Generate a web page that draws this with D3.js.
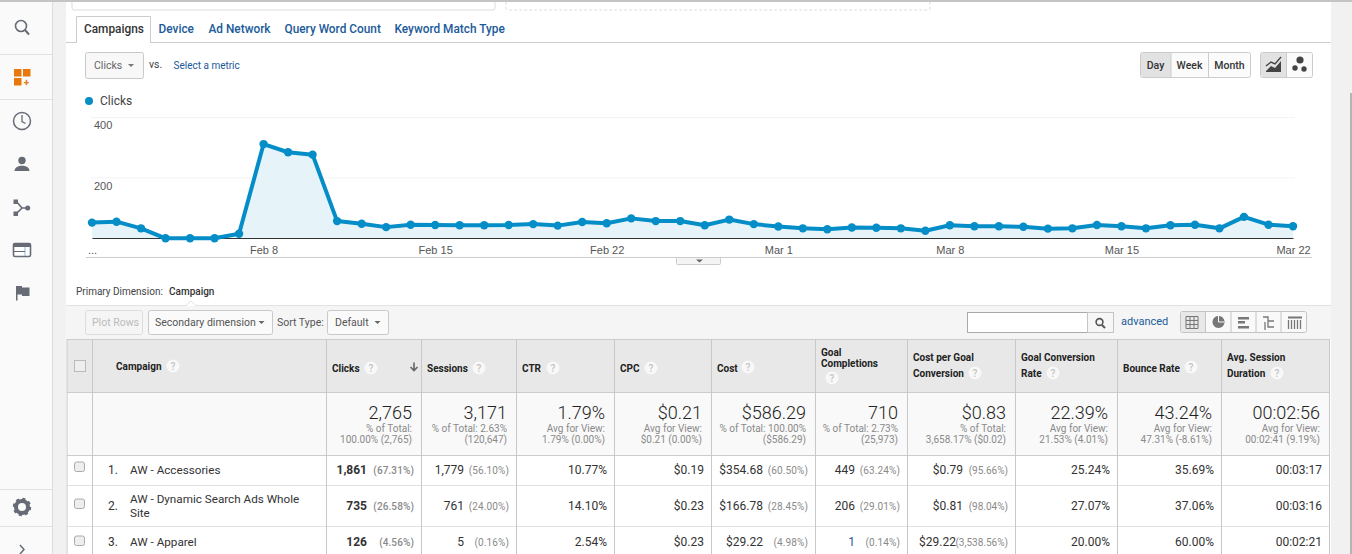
<!DOCTYPE html>
<html><head><meta charset="utf-8">
<script src="https://d3js.org/d3.v7.min.js"></script>
<style>html,body{margin:0;padding:0;background:#fff;overflow:hidden}svg{display:block}text{font-family:Roboto,sans-serif}</style>
</head><body><svg id="c" width="1352" height="554"></svg>
<script>
const tabs=["Campaigns","Device","Ad Network","Query Word Count","Keyword Match Type"];
const clicks=[52,55,33,0,0,0,15,312,285,277,57,48,37,45,44,43,43,44,47,42,54,50,66,57,57,43,62,47,39,33,30,36,35,33,25,43,40,40,38,32,33,44,40,33,43,45,33,71,45,40];
const xTickIdx=[0,7,14,21,28,35,42,49];
const xTickLabels=["...","Feb 8","Feb 15","Feb 22","Mar 1","Mar 8","Mar 15","Mar 22"];
const yTicks=[200,400];
const headers=[["Clicks"],["Sessions"],["CTR"],["CPC"],["Cost"],["Goal","Completions"],["Cost per Goal","Conversion"],["Goal Conversion","Rate"],["Bounce Rate"],["Avg. Session","Duration"]];
const summaryBig=["2,765","3,171","1.79%","$0.21","$586.29","710","$0.83","22.39%","43.24%","00:02:56"];
const summarySub=[["% of Total:","100.00% (2,765)"],["% of Total: 2.63%","(120,647)"],["Avg for View:","1.79% (0.00%)"],["Avg for View:","$0.21 (0.00%)"],["% of Total: 100.00%","($586.29)"],["% of Total: 2.73%","(25,973)"],["% of Total:","3,658.17% ($0.02)"],["Avg for View:","21.53% (4.01%)"],["Avg for View:","47.31% (-8.61%)"],["Avg for View:","00:02:41 (9.19%)"]];
const campaigns=[["AW - Accessories"],["AW - Dynamic Search Ads Whole","Site"],["AW - Apparel"]];
const rowVals=[["1,861","1,779","10.77%","$0.19","$354.68","449","$0.79","25.24%","35.69%","00:03:17"],
["735","761","14.10%","$0.23","$166.78","206","$0.81","27.07%","37.06%","00:03:16"],
["126","5","2.54%","$0.23","$29.22","1","$29.22","20.00%","60.00%","00:02:21"]];
const rowPct=[["(67.31%)","(56.10%)",null,null,"(60.50%)","(63.24%)","(95.66%)",null,null,null],
["(26.58%)","(24.00%)",null,null,"(28.45%)","(29.01%)","(98.04%)",null,null,null],
["(4.56%)","(0.16%)",null,null,"(4.98%)","(0.14%)","(3,538.56%)",null,null,null]];

const svg=d3.select("#c");
const LINE="#ccc",BLUE="#058dc7",LINK="#1a5a9a",INK="#333",GRAY="#8a8a8a";
const rect=(x,y,w,h,f,s,r)=>svg.append("rect").attr("x",x).attr("y",y).attr("width",w).attr("height",h).attr("fill",f||"none").attr("stroke",s||"none").attr("rx",r||0);
const ln=(x1,y1,x2,y2,s,w)=>svg.append("line").attr("x1",x1).attr("y1",y1).attr("x2",x2).attr("y2",y2).attr("stroke",s||LINE).attr("stroke-width",w||1);
const tx=(s,x,y,o={})=>svg.append("text").attr("x",x).attr("y",y).text(s).attr("font-size",o.size||11).attr("fill",o.fill||INK).attr("font-weight",o.weight||400).attr("text-anchor",o.anchor||"start").style("font-family",o.family||"Roboto,sans-serif");
const tri=(x,y,c)=>svg.append("path").attr("d",`M${x-3},${y}h6l-3,3z`).attr("fill",c||"#666");
const help=(x,y)=>{svg.append("circle").attr("cx",x).attr("cy",y).attr("r",6.5).attr("fill","#f8f8f8");tx("?",x,y+3.5,{size:10,fill:"#c4c4c4",anchor:"middle",weight:500});};
const btn=(x,y,w,h,f)=>rect(x+.5,y+.5,w,h,f||"#f8f8f8","#c9c9c9",2);

// page frame
rect(0,0,1352,554,"#fff");
rect(0,0,52,554,"#fafafa");
rect(52,0,14,554,"#f1f1f1");
ln(52.5,0,52.5,554,"#dcdcdc");
rect(1331,0,21,554,"#f1f1f1");
rect(1350,93,2,461,"#b5b5b5");
rect(0,0,1352,2,"#c4c4c4");
ln(0,54.5,52,54.5,"#e2e2e2");ln(0,99.5,52,99.5,"#e2e2e2");
ln(0,489.5,52,489.5,"#e2e2e2");ln(0,526.5,52,526.5,"#e2e2e2");

// sidebar icons
const ic="#666b75";
svg.append("circle").attr("cx",21).attr("cy",26).attr("r",5.5).attr("fill","none").attr("stroke",ic).attr("stroke-width",1.6);
ln(25,30,29,34.5,ic,2);
[[14,69],[23,69],[14,78]].forEach(p=>rect(p[0],p[1],7.5,7.5,"#e8780c"));
tx("+",26.5,85.5,{size:10,fill:"#e8780c",anchor:"middle",weight:700});
svg.append("circle").attr("cx",22).attr("cy",121).attr("r",8.5).attr("fill","none").attr("stroke",ic).attr("stroke-width",1.5);
svg.append("path").attr("d","M22,115v6.5l3.5,2").attr("fill","none").attr("stroke",ic).attr("stroke-width",1.3);
svg.append("circle").attr("cx",22).attr("cy",160.5).attr("r",3.7).attr("fill",ic);
svg.append("path").attr("d","M14.5,171c0-7 15-7 15,0z").attr("fill",ic);
svg.append("path").attr("d","M16,201l6,7l6,0M22,208l-6,6").attr("fill","none").attr("stroke",ic).attr("stroke-width",1.6);
rect(13.5,199.5,4.5,4.5,ic);rect(13.5,211.5,4.5,4.5,ic);svg.append("circle").attr("cx",27.7).attr("cy",208).attr("r",2.5).attr("fill",ic);
rect(13.5,243.5,17,13,"#fff",ic,1.5).attr("stroke-width",1.6);rect(13.5,243.5,17,3.5,ic);ln(25,247,25,256,"#8ab8dc");ln(14,251.5,25,251.5,ic);
svg.append("path").attr("d","M16,286h6v1.5h7.5v8.5h-7.5v-1.5h-4.5v6h-1.5z").attr("fill",ic);
const cogC=[22,507];
svg.append("circle").attr("cx",cogC[0]).attr("cy",cogC[1]).attr("r",6).attr("fill","none").attr("stroke",ic).attr("stroke-width",4);
svg.append("circle").attr("cx",cogC[0]).attr("cy",cogC[1]).attr("r",8).attr("fill","none").attr("stroke",ic).attr("stroke-width",2.5).attr("stroke-dasharray","3 3.3");
svg.append("path").attr("d","M20,545l4,4.5l-4,4.5").attr("fill","none").attr("stroke",ic).attr("stroke-width",1.5);

// clipped top boxes
svg.append("path").attr("d","M72,2V8q0,2 2,2H493q2,0 2,-2V2").attr("fill","none").attr("stroke","#ddd");
svg.append("path").attr("d","M506,2V8q0,2 2,2H928q2,0 2,-2V2").attr("fill","none").attr("stroke","#ddd").attr("stroke-dasharray","3 2");

// tabs
ln(66,42.5,1331,42.5,"#ccc");
svg.append("path").attr("d","M76.5,43V16.5H150.5V43").attr("fill","#fff").attr("stroke","#ccc");
rect(77,40,73,4,"#fff");
const tabX=[84,158.5,208.5,284.5,394.5];
tabs.forEach((t,i)=>tx(t,tabX[i],33,{size:11.85,weight:500,fill:i?LINK:"#333"}));

// metric selector
btn(85,52,58,26);tx("Clicks",94,69,{size:10.5,fill:"#666"});tri(131,64,"#777");
tx("vs.",149,68,{size:10.5,fill:"#444"});
tx("Select a metric",173.5,69,{size:10,fill:LINK});

// day/week/month
rect(1140.5,52.5,110,25,"#fbfbfb","#ccc",2);
rect(1141,53,30,24,"#e2e2e2");
ln(1171,53,1171,77,"#ccc");ln(1208.5,53,1208.5,77,"#ccc");
tx("Day",1155.5,69,{size:10.5,weight:500,anchor:"middle",fill:"#333"});
tx("Week",1189.5,69,{size:10.5,weight:500,anchor:"middle",fill:"#333"});
tx("Month",1229.5,69,{size:10.5,weight:500,anchor:"middle",fill:"#333"});
rect(1260.5,52.5,52,25,"#fbfbfb","#ccc",2);rect(1261,53,25,24,"#e2e2e2");ln(1286.5,53,1286.5,77,"#ccc");
svg.append("path").attr("d","M1266,71l5,-5l4,2l6,-7v11h-15z").attr("fill","#444");
svg.append("path").attr("d","M1266,66l5,-4l4,2l6,-7").attr("fill","none").attr("stroke","#444").attr("stroke-width",1.4);
[[1300,60,3.6],[1295,68,2.7],[1304,69,2.7]].forEach(p=>svg.append("circle").attr("cx",p[0]).attr("cy",p[1]).attr("r",p[2]).attr("fill","#444"));

// legend
svg.append("circle").attr("cx",89).attr("cy",101).attr("r",4).attr("fill",BLUE);
tx("Clicks",100,105,{size:12,fill:"#444"});

// chart
const x=d3.scaleLinear().domain([0,clicks.length-1]).range([92,1293]);
const y=d3.scaleLinear().domain([0,400]).range([238.3,117.5]);
const gridAxis=d3.axisRight(y).tickValues(yTicks).tickSize(1204).tickFormat(d=>d);
const gy=svg.append("g").attr("transform","translate(91,-0.5)").call(gridAxis);
gy.select(".domain").remove();
gy.selectAll("line").attr("stroke","#f3f3f3");
gy.selectAll("text").attr("x",3).attr("dy","1.09em").attr("fill","#555").attr("font-size",11).attr("text-anchor","start").style("font-family","'Liberation Sans',Arial,sans-serif");
const xi=d3.axisBottom(x).tickValues(xTickIdx).tickSize(0).tickPadding(8).tickFormat((d,i)=>xTickLabels[i]);
svg.append("path").datum(clicks).attr("fill","#e6f3f9").attr("d",d3.area().x((d,i)=>x(i)).y0(y(0)).y1(d=>y(d)));
const gx=svg.append("g").attr("transform","translate(0,238)").call(xi);
gx.select(".domain").attr("stroke","#333").attr("stroke-width",1);
gx.selectAll("text").attr("fill","#555").attr("font-size",11).style("font-family","'Liberation Sans',Arial,sans-serif");
svg.append("path").datum(clicks).attr("fill","none").attr("stroke",BLUE).attr("stroke-width",4).attr("stroke-linejoin","round").attr("d",d3.line().x((d,i)=>x(i)).y(d=>y(d)));
svg.append("g").selectAll("circle").data(clicks).join("circle").attr("cx",(d,i)=>x(i)).attr("cy",d=>y(d)).attr("r",4.2).attr("fill",BLUE);

// chart bottom rule and collapse handle
ln(86,257.5,1312,257.5,"#ccc");
rect(676.5,257.5,44,7,"#f4f4f4","#ccc",1);
svg.append("path").attr("d","M696,259.5h7l-3.5,3z").attr("fill","#666");

// primary dimension
tx("Primary Dimension:",76,295,{size:10,fill:"#444"});
tx("Campaign",169,295,{size:10,weight:500,fill:"#333"});

// toolbar
rect(66,305,1265,34,"#f5f5f5");ln(66,305.5,1331,305.5,"#e2e2e2");
svg.append("path").attr("d","M186,306l5,-5l5,5z").attr("fill","#fff");
svg.append("path").attr("d","M186,305.5l5,-4.5l5,4.5").attr("fill","none").attr("stroke","#e2e2e2");
btn(85,310,57,24,"#f5f5f5").attr("stroke","#ddd");tx("Plot Rows",92,326,{size:10.5,fill:"#bbb"});
btn(148,310,124,24,"#fafafa");tx("Secondary dimension",155,326,{size:10.5,fill:"#555"});tri(261.5,321,"#666");
tx("Sort Type:",277,326,{size:10.5,fill:"#555"});
btn(327,310,61,24,"#fafafa");tx("Default",335,326,{size:10.5,fill:"#555"});tri(377.5,321,"#666");
rect(967.5,312.5,120,20,"#fff","#aaa");
rect(1087.5,312.5,26,20,"#f6f6f6","#c4c4c4");
svg.append("circle").attr("cx",1099.5).attr("cy",322).attr("r",3.4).attr("fill","none").attr("stroke","#555").attr("stroke-width",1.6);
ln(1102,325,1105,328,"#555",2);
tx("advanced",1121,325,{size:11,fill:LINK});
rect(1180.5,311.5,126,21,"#f9f9f9","#c4c4c4",2);
rect(1181,312,25,20,"#e8e8e8");
[1205.5,1231,1256,1281].forEach(v=>ln(v,312,v,332,"#c4c4c4"));
const g1=svg.append("g").attr("stroke","#777").attr("fill","none");
for(let k=0;k<4;k++){g1.append("line").attr("x1",1186).attr("x2",1198).attr("y1",316.5+k*4).attr("y2",316.5+k*4);g1.append("line").attr("y1",316.5).attr("y2",328.5).attr("x1",1186+k*4).attr("x2",1186+k*4);}
svg.append("path").attr("d",d3.arc().innerRadius(0).outerRadius(6)({startAngle:0.1,endAngle:6.2})).attr("transform","translate(1218.5,322)").attr("fill","#777");
ln(1218.5,316,1218.5,322,"#f9f9f9");ln(1218.5,322,1224,322,"#f9f9f9");
[[1238,317,11],[1238,321,7],[1238,326,11]].forEach(p=>rect(p[0],p[1],p[2],2.5,"#777"));
svg.append("path").attr("d","M1263,317h5v10h6M1268,321h6M1265,322v8").attr("fill","none").attr("stroke","#777").attr("stroke-width",1.3);
for(let k=0;k<5;k++)ln(1288.5+k*3,320,1288.5+k*3,329,"#777",1.3);
ln(1288,317.5,1302,317.5,"#777",2);

// table
const colX=[67,92.5,326.5,421.5,516.5,614.5,711.5,815.5,907.5,1015.5,1117.5,1221.5,1329.5];
rect(67,339,1262,53,"#e8e8e8");
rect(67,392,1262,63,"#f9f9f9");
rect(67,455,1262,99,"#fff");
ln(67,339.5,1330,339.5,"#ccc");ln(67,392.5,1330,392.5,"#ccc");ln(67,455.5,1330,455.5,"#ccc");
ln(67,485.5,1330,485.5,"#e2e2e2");ln(67,526.5,1330,526.5,"#e2e2e2");
colX.forEach(v=>ln(v,339,v,554,"#c8c8c8"));

// checkboxes
rect(74.5,360.5,11,11,"#eee","#bbb",0);
[466,503,540].forEach(v=>rect(74.5,v-4,10,9.5,"#eee","#aaa",2));

// header text
tx("Campaign",116,370,{size:10,weight:700,fill:"#222"});help(173,366);
svg.append("path").attr("d","M414,362.5v8M410.5,367l3.5,3.5l3.5,-3.5").attr("fill","none").attr("stroke","#666").attr("stroke-width",1.6);
const headLeft=[332,427,522,620,717,821,913,1021,1123,1227];
const hs={size:10,weight:700,fill:"#222"};
const helpPos=[[371,368],[479,368],[553,368],[651,368],[748,367],[832,378],[975,373],[1053,373],[1191,367],[1277,373]];
const headY=[[372],[372],[372],[372],[372],[356,367],[361,377],[361,377],[372],[361,377]];
headers.forEach((h,i)=>{h.forEach((t,j)=>tx(t,headLeft[i],headY[i][j],hs));help(helpPos[i][0],helpPos[i][1]);});

// summary
const sumRight=[412,507,605,702,806,898,1006,1108,1212,1320];
summaryBig.forEach((t,i)=>{
  tx(t,sumRight[i],419,{size:18,weight:300,fill:"#222",anchor:"end"});
  summarySub[i].forEach((s,j)=>tx(s,sumRight[i],432+j*11,{size:10,fill:GRAY,anchor:"end"}));
});

// rows
const valRight=[367,464,607,704,763,855,963,1110,1214,1322];
const pctRight=[414,509,null,null,808,900,1008,null,null,null];
const rowBase=[474,510,546];
const nameBase=[[474],[503,517],[546]];
campaigns.forEach((c,r)=>{
  tx((r+1)+".",108,rowBase[r],{size:12,fill:"#333"});
  c.forEach((s,j)=>tx(s,130,nameBase[r][j],{size:11.7,fill:"#333"}));
  rowVals[r].forEach((v,i)=>{
    let vx=valRight[i];
    if(r===2&&i===6)vx=956;
    const link=(r===2&&i===5);
    tx(v,vx,rowBase[r],{size:12,weight:i===0?700:400,fill:link?LINK:"#333",anchor:"end"});
    if(rowPct[r][i])tx(rowPct[r][i],pctRight[i],rowBase[r],{size:10,weight:i===0?500:400,fill:GRAY,anchor:"end"}).attr("letter-spacing",i===6?0:0.1);
  });
});
</script></body></html>
